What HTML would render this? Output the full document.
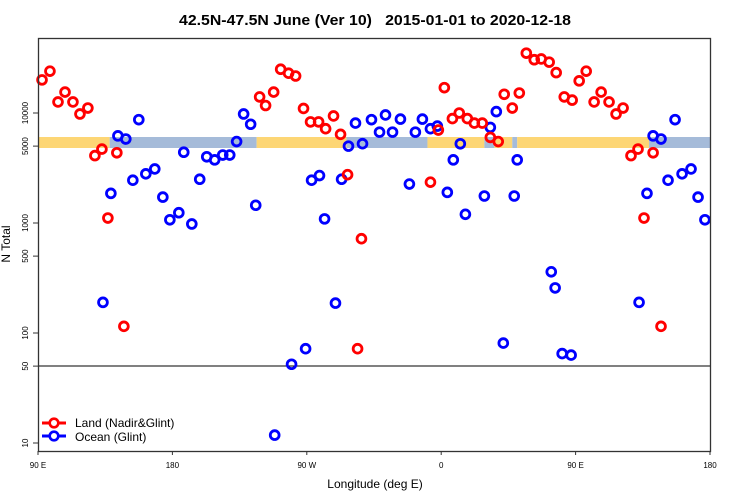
<!DOCTYPE html>
<html><head><meta charset="utf-8"><style>
body{margin:0;background:#fff}
svg{display:block;font-family:"Liberation Sans",sans-serif}
</style></head><body>
<svg id="chart" width="750" height="500" viewBox="0 0 750 500">
<text x="375" y="25" text-anchor="middle" font-size="15" font-weight="bold" style="white-space:pre" xml:space="preserve" textLength="392" lengthAdjust="spacingAndGlyphs">42.5N-47.5N June (Ver 10)   2015-01-01 to 2020-12-18</text>
<g id="band"></g>
<line x1="38" y1="366" x2="710" y2="366" stroke="#000" stroke-width="1"/>
<g id="ocean"></g>
<g id="land"></g>
<rect x="38.5" y="38.5" width="672" height="413" fill="none" stroke="#333" stroke-width="1.3"/>
<g id="yaxis"></g>
<g id="xaxis"></g>
<text transform="translate(10,244) rotate(-90)" text-anchor="middle" font-size="12">N Total</text>
<text x="375" y="488" text-anchor="middle" font-size="12">Longitude (deg E)</text>
<g>
<g>
<line x1="42" y1="423" x2="66" y2="423" stroke="#f00" stroke-width="3"/>
<circle cx="54" cy="423" r="4.3" fill="#fff" stroke="#f00" stroke-width="2.6"/>
<text x="75" y="427" font-size="12">Land (Nadir&amp;Glint)</text></g>
<g>
<line x1="42" y1="436" x2="66" y2="436" stroke="#00f" stroke-width="3"/>
<circle cx="54" cy="436" r="4.3" fill="#fff" stroke="#00f" stroke-width="2.6"/>
<text x="75" y="441" font-size="12">Ocean (Glint)</text></g>
</g>
</svg>
<script>
const landLon=[92.7,98.0,103.4,108.1,113.4,118.1,123.4,128.1,132.8,136.8,142.8,147.5,238.4,242.4,247.8,252.5,257.8,262.5,267.8,272.5,277.9,282.6,287.9,292.6,297.3,306.6,304.0,352.8,358.1,362.1,367.5,372.1,377.5,382.2,387.5,392.9,398.2,402.2,407.6,412.3,417.0,422.3,427.0,432.3,437.0,442.4,447.7,452.4,457.1,462.4,467.1,472.4,477.1,481.8,487.1,491.8,495.8,501.9,507.2];
const landN=[20000,24000,12600,15500,12600,9800,11100,4100,4700,1110,4350,115,14000,11700,15500,25000,23000,21700,11000,8300,8300,7200,9400,6400,2750,720,72,2350,7000,17000,8900,10000,8900,8100,8100,6000,5500,14800,11100,15200,35000,30500,31000,29000,23300,14000,13100,19600,24000,12600,15500,12600,9800,11100,4100,4700,1110,4350,115];
const oceanLon=[133.5,138.8,143.5,148.8,153.5,157.5,162.2,168.2,173.6,178.3,184.3,187.6,193.0,198.3,203.0,208.3,213.7,218.4,223.0,227.7,232.4,235.8,248.5,259.8,269.2,273.2,278.5,281.9,289.2,293.3,297.9,302.6,307.3,313.3,318.7,322.7,327.4,332.7,338.7,342.7,347.4,352.8,357.4,364.1,368.1,372.8,376.2,388.9,392.9,396.9,401.6,408.9,410.9,433.7,436.3,441.0,447.0,492.5,497.8,501.9,507.2,511.9,516.6,521.3,527.3,532.0,536.6];
const oceanN=[190,1860,6200,5800,2450,8700,2800,3100,1720,1070,1240,4400,980,2500,4000,3750,4150,4150,5500,9800,7900,1450,11.8,52,72,2450,2700,1090,187,2500,5000,8100,5260,8700,6700,9600,6700,8800,2260,6700,8800,7200,7600,1900,3750,5250,1200,1760,7400,10300,81,1760,3750,360,257,65,63,190,1860,6200,5800,2450,8700,2800,3100,1720,1070];
const bandStart=[90,138,236.4,296.6,350.8,388.9,395.6,407.6,410.9,499.2];
const bandEnd=[138,236.4,296.6,350.8,388.9,395.6,407.6,410.9,499.2,540];
const bandType=['land','ocean','land','ocean','land','ocean','land','ocean','land','ocean'];
const yTicks=[10,50,100,500,1000,5000,10000];
const xTicks=[90,180,270,360,450,540];
const xTickLabels=['90 E','180','90 W','0','90 E','180'];
const NS='http://www.w3.org/2000/svg';
const xs=l=>38+(l-90)/450*672;
const ys=v=>443-(Math.log10(v)-1)*110;
function mk(t,a,p){const e=document.createElementNS(NS,t);for(const k in a)e.setAttribute(k,a[k]);p.appendChild(e);return e;}
const band=document.getElementById('band');
for(let i=0;i<bandStart.length;i++){
 const r=mk('rect',{x:xs(bandStart[i]),y:137,width:xs(bandEnd[i])-xs(bandStart[i]),height:11,fill:bandType[i]==='land'?'#fdd675':'#a5bbd9'},band);
 
 
}
function pts(lon,n,col,g,name){for(let i=0;i<lon.length;i++){
 const c=mk('circle',{cx:xs(lon[i]),cy:ys(n[i]),r:4.4,fill:'none',stroke:col,'stroke-width':2.8},g);
 
 
}}
pts(oceanLon,oceanN,'#00f',document.getElementById('ocean'),'ocean-point');
pts(landLon,landN,'#f00',document.getElementById('land'),'land-point');
const ya=document.getElementById('yaxis');
yTicks.forEach(v=>{
 mk('line',{x1:33,x2:38,y1:ys(v),y2:ys(v),stroke:'#333'},ya);
 const t=mk('text',{transform:`translate(28,${ys(v)}) rotate(-90)`,'text-anchor':'middle','font-size':8},ya);
 t.textContent=v;
 
 
});
const xa=document.getElementById('xaxis');
xTicks.forEach((v,i)=>{
 mk('line',{x1:xs(v),x2:xs(v),y1:451,y2:455,stroke:'#333'},xa);
 const t=mk('text',{x:xs(v),y:468,'text-anchor':'middle','font-size':8},xa);
 t.textContent=xTickLabels[i];
 
 
});
</script>
</body></html>
